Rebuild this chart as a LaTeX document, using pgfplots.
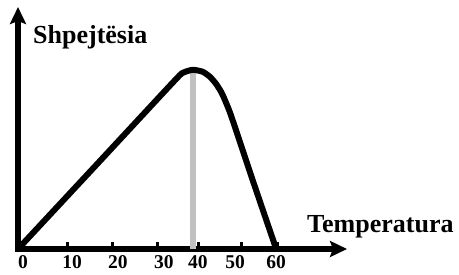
\documentclass[border=0pt]{standalone}
\usepackage{pgfplots}
\pgfplotsset{compat=1.18}
\usetikzlibrary{arrows.meta}
\usepackage{fontspec}
\setmainfont{Liberation Serif}
\newcommand{\tl}[1]{\textbf{\fontsize{19.5bp}{21bp}\selectfont #1}}
\begin{document}
\begin{tikzpicture}
\useasboundingbox (0,0) rectangle (459bp,275bp);
\begin{axis}[
  at={(18bp,26bp)}, anchor=south west,
  scale only axis, width=329bp, height=242bp,
  xmin=0, xmax=76.2, ymin=0, ymax=121,
  clip=false,
  axis lines=left,
  axis line style={line width=6bp, black, line cap=rect},
  x axis line style={-{Stealth[width=16bp,length=17bp,inset=3bp]}},
  y axis line style={-{Stealth[width=16bp,length=17bp,inset=3bp]}},
  ytick=\empty,
  xtick={0,11.35,22.0,32.4,41.9,51.7,60},
  xticklabels={\kern10bp\tl{0},\kern10bp\tl{10},\kern10bp\tl{20},\kern12bp\tl{30},\kern-2bp\tl{40},{\raisebox{-3bp}{\tl{50}}\kern12bp},\raisebox{1.5bp}{\tl{60}}\kern2bp},
  tick align=inside,
  major tick length=7bp,
  tick style={line width=3bp, black},
  xticklabel style={anchor=north, yshift=-3.5bp},
]
\addplot[color={rgb,255:red,192;green,192;blue,192}, line width=5.5bp] coordinates {(40.5,0) (40.5,88)};
\addplot[black, line width=6bp, line join=round, smooth, tension=0.35] coordinates {
 (0,0) (18.2,42.2) (36.4,84.5) (38.3,88.2) (40.5,89.6) (42.8,88.6) (44.5,86) (45.9,82.5) (47.3,77.5) (49.3,67) (54.5,33.5) (59.8,0)
};
\end{axis}
\node[anchor=base west, inner sep=0pt, font=\fontsize{26bp}{30bp}\selectfont\bfseries] at (33bp,231bp) {Shpejtësia};
\node[anchor=base west, inner sep=0pt, font=\fontsize{26bp}{30bp}\selectfont\bfseries] at (307bp,42bp) {Temperatura};
\end{tikzpicture}
\end{document}
